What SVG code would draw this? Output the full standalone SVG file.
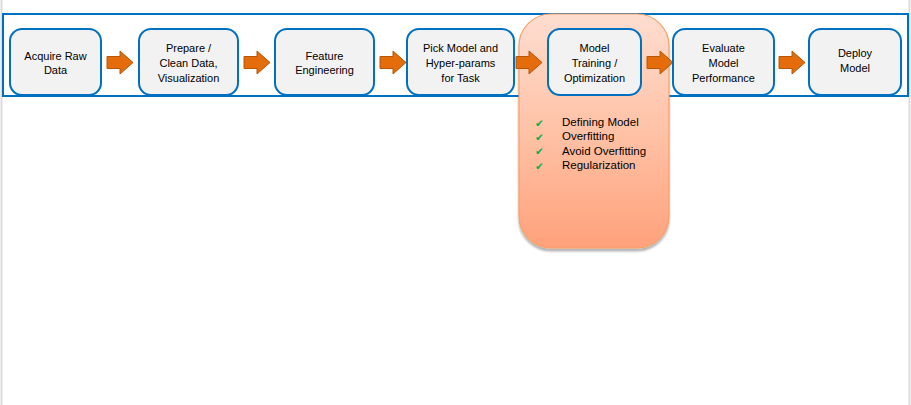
<svg xmlns="http://www.w3.org/2000/svg" width="911" height="405" viewBox="0 0 911 405">
<defs>
<linearGradient id="og" x1="0" y1="0" x2="0" y2="1">
<stop offset="0" stop-color="#FDDDD0"/>
<stop offset="0.5" stop-color="#FFC2A6"/>
<stop offset="1" stop-color="#FFA17B"/>
</linearGradient>
<filter id="sh" x="-10%" y="-10%" width="120%" height="120%">
<feGaussianBlur in="SourceAlpha" stdDeviation="1.2"/>
<feOffset dx="0" dy="2.5" result="b"/>
<feComponentTransfer><feFuncA type="linear" slope="0.3"/></feComponentTransfer>
<feMerge><feMergeNode/><feMergeNode in="SourceGraphic"/></feMerge>
</filter>
<path id="arr" d="M0,5.5 H13 V0 L26,11.5 L13,23 V17.5 H0 Z"/>
</defs>
<style>
.node rect{fill:#F2F2F2;stroke:#0070C0;stroke-width:2}
.node text{font-family:"Liberation Sans",Arial,sans-serif;font-size:11px;fill:#000;text-anchor:middle}
.arrow{fill:#E46C0A;stroke:#B65708;stroke-width:1}
.chk{font-family:"DejaVu Sans",sans-serif;font-size:10.5px;fill:#00B050}
.item{font-family:"Liberation Sans",Arial,sans-serif;font-size:11.5px;fill:#000}
</style>
<rect x="0" y="0" width="911" height="405" fill="#fff"/>
<line x1="1.5" y1="0" x2="1.5" y2="405" stroke="#DCDCDC" stroke-width="2"/>
<line x1="909.5" y1="0" x2="909.5" y2="405" stroke="#DCDCDC" stroke-width="2"/>
<rect id="frame" x="3" y="14" width="905" height="82" fill="none" stroke="#0070C0" stroke-width="2"/>
<g id="highlight">
<rect x="519" y="14" width="150" height="234" rx="32" ry="32" fill="url(#og)" stroke="#F7A068" stroke-width="1.2" filter="url(#sh)"/>
<text class="chk" x="535" y="126.5">✔</text>
<text class="chk" x="535" y="140.5">✔</text>
<text class="chk" x="535" y="155">✔</text>
<text class="chk" x="535" y="169.5">✔</text>
<text class="item" x="562" y="126">Defining Model</text>
<text class="item" x="562" y="140">Overfitting</text>
<text class="item" x="562" y="155">Avoid Overfitting</text>
<text class="item" x="562" y="169">Regularization</text>
</g>
<g id="connectors">
<use href="#arr" class="arrow" x="107" y="51"/>
<use href="#arr" class="arrow" x="244" y="51"/>
<use href="#arr" class="arrow" x="380" y="51"/>
<use href="#arr" class="arrow" x="516" y="51"/>
<use href="#arr" class="arrow" x="647" y="51"/>
<use href="#arr" class="arrow" x="779" y="51"/>
</g>
<g id="n1" class="node"><rect x="10" y="29" width="91" height="66" rx="12"/><text x="55.5" y="60">Acquire Raw</text><text x="55.5" y="74">Data</text></g>
<g id="n2" class="node"><rect x="139" y="29" width="99" height="66" rx="12"/><text x="188.5" y="52">Prepare /</text><text x="188.5" y="67">Clean Data,</text><text x="188.5" y="82">Visualization</text></g>
<g id="n3" class="node"><rect x="275" y="29" width="99" height="66" rx="12"/><text x="324.5" y="60">Feature</text><text x="324.5" y="74">Engineering</text></g>
<g id="n4" class="node"><rect x="407" y="29" width="107" height="66" rx="12"/><text x="460.5" y="52">Pick Model and</text><text x="460.5" y="67">Hyper-params</text><text x="460.5" y="82">for Task</text></g>
<g id="n5" class="node"><rect x="548" y="29" width="93" height="66" rx="12"/><text x="594.5" y="52">Model</text><text x="594.5" y="67">Training /</text><text x="594.5" y="82">Optimization</text></g>
<g id="n6" class="node"><rect x="673" y="29" width="101" height="66" rx="12"/><text x="723.5" y="52">Evaluate</text><text x="723.5" y="67">Model</text><text x="723.5" y="82">Performance</text></g>
<g id="n7" class="node"><rect x="809" y="29" width="92" height="66" rx="12"/><text x="855" y="57">Deploy</text><text x="855" y="72">Model</text></g>
</svg>
